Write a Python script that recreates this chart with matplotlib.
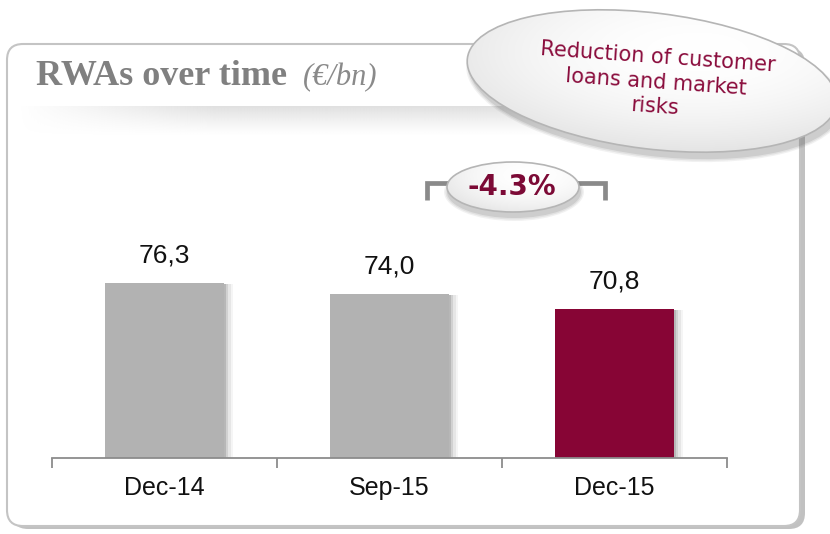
import numpy as np
import matplotlib
matplotlib.use("Agg")
import matplotlib.pyplot as plt
from matplotlib.patches import FancyBboxPatch, Ellipse
from matplotlib import patheffects as pe

# data (EUR bn)
periods = ["Dec-14", "Sep-15", "Dec-15"]
rwa_bn = [76.3, 74.0, 70.8]
value_labels = ["76,3", "74,0", "70,8"]
change_label = "-4.3%"
note_text = "Reduction of customer\nloans and market\nrisks"

GREY = "#b2b2b2"; MAROON = "#870535"; TXT_MAROON = "#8a0c3c"; LINE = "#8c8c8c"
W, H = 830, 534

fig = plt.figure(figsize=(W / 100, H / 100), dpi=100)

# background layer in pixel coords (y down)
bg = fig.add_axes([0, 0, 1, 1], zorder=0)
bg.set_xlim(0, W); bg.set_ylim(H, 0); bg.axis("off")
bg.add_patch(FancyBboxPatch((12, 48), 793, 481, boxstyle="round,pad=0,rounding_size=16",
                            fc="#8f8f8f", ec="none", alpha=.55))
bg.add_patch(FancyBboxPatch((7, 44), 793, 482, boxstyle="round,pad=0,rounding_size=16",
                            fc="white", ec="#c4c4c4", lw=1.5))
grad = np.ones((30, 200, 4))
grad[..., :3] = 0.8
grad[..., 3] = 0.6 * np.linspace(1, 0, 30)[:, None] ** 1.2 * np.clip(np.linspace(0, 4, 200), 0, 1)[None, :]
bg.imshow(grad, extent=[18, 800, 136, 106], aspect="auto", interpolation="bilinear", zorder=2)
bg.text(36, 85, "RWAs over time", family="Liberation Serif", weight="bold", size=26,
        color="#808080", va="baseline")
bg.text(303, 85, "(€/bn)", family="Liberation Serif", style="italic", size=22,
        color="#8a8a8a", va="baseline")

# bar chart
ax = fig.add_axes([52 / W, 1 - 458 / H, 675 / W, 318 / H], zorder=1)
ax.patch.set_alpha(0)
x = np.arange(len(periods))
bars = ax.bar(x, rwa_bn, width=0.525, color=[GREY, GREY, MAROON], zorder=2)
for b in bars:
    b.set_path_effects([pe.SimplePatchShadow(offset=(o, -1), shadow_rgbFace="k", alpha=a)
                        for o, a in ((7, .04), (5, .06), (3, .09), (1.5, .12))] + [pe.Normal()])
for xi, v, lbl in zip(x, rwa_bn, value_labels):
    ax.annotate(lbl, (xi, v), xytext=(0, 11), textcoords="offset points", ha="center", va="bottom",
                fontsize=19, family="Liberation Sans", color="#111111")
ax.set_xlim(-0.5, 2.5)
ax.set_ylim(39.3, 39.3 + 318 / 4.73)
for s in ("top", "left", "right"):
    ax.spines[s].set_visible(False)
ax.spines["bottom"].set_color(LINE); ax.spines["bottom"].set_linewidth(1.3)
ax.set_yticks([])
ax.set_xticks(x, periods, fontsize=18, family="Liberation Sans", color="#111111")
ax.tick_params(axis="x", which="major", length=0, pad=13)
ax.set_xticks([-0.5, 0.5, 1.5, 2.5], minor=True)
ax.tick_params(axis="x", which="minor", length=7, width=1.3, color=LINE, direction="out")

# callouts on top
fg = fig.add_axes([0, 0, 1, 1], zorder=3)
fg.set_xlim(0, W); fg.set_ylim(H, 0); fg.axis("off")


def bubble(cx, cy, w, h, ang, shadow=(3, 6)):
    for k, a in zip((8, 5, 2), (.08, .1, .14)):
        fg.add_patch(Ellipse((cx + shadow[0], cy + shadow[1]), w + k, h + k, angle=ang,
                             fc="#555555", ec="none", alpha=a))
    fg.add_patch(Ellipse((cx, cy), w, h, angle=ang, fc="none", ec="#b5b5b5", lw=1.2, zorder=3))
    yy, xx = np.mgrid[0:1:120j, 0:1:240j]
    d = np.hypot(xx - 0.62, yy - 0.3)
    shade = np.clip(1 - 0.22 * d ** 2, 0, 1)
    img = fg.imshow(np.dstack([shade] * 3), extent=[cx - w / 2 - 5, cx + w / 2 + 5, cy + h / 2 + 5, cy - h / 2 - 5],
                    aspect="auto", interpolation="bilinear", zorder=2)
    img.set_clip_path(Ellipse((cx, cy), w, h, angle=ang, transform=fg.transData))


bubble(652, 81, 372, 136, 7)
fg.text(656, 82, note_text, ha="center", va="center", rotation=-4, rotation_mode="anchor",
        family="DejaVu Sans", size=15, color=TXT_MAROON, linespacing=1.3, zorder=4)

fg.plot([427, 427, 605, 605], [200, 183, 183, 200], color="#8a8a8a", lw=3.4,
        solid_joinstyle="miter", solid_capstyle="butt", zorder=1)
bubble(513, 187, 132, 50, 0, shadow=(1, 5))
fg.text(512, 187, change_label, ha="center", va="center", family="DejaVu Sans", weight="bold",
        size=20, color="#7c0a36", zorder=4)

fig.savefig("out.png", dpi=100)
